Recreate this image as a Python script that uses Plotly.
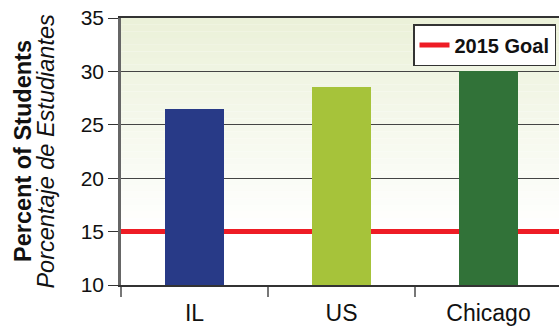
import plotly.graph_objects as go

categories = ["IL", "US", "Chicago"]
percent_students = [26.5, 28.5, 30.0]
bar_colors = ["#283a87", "#a6c33a", "#317238"]
goal_label = "2015 Goal"
goal_value = 15
y_ticks = [10, 15, 20, 25, 30, 35]
y_title_en = "Percent of Students"
y_title_es = "Porcentaje de Estudiantes"

W, H = 559, 327
L, T, B = 121, 18, 42
plot_w = W - L
plot_h = H - T - B
cat_px = 147
x_pos = list(range(len(categories)))
x_range = [-0.5, -0.5 + plot_w / cat_px]

fig = go.Figure()
fig.add_trace(go.Bar(
    x=x_pos, y=percent_students,
    marker=dict(color=bar_colors, line=dict(width=0)),
    width=0.395, showlegend=False))

# vertical gradient background (pale green at top fading to white)
n = 40
top = (235, 241, 217)
bot = (255, 255, 255)
for i in range(n):
    f = min(1.0, (i / (n - 1)) / 0.8)
    c = tuple(round(top[k] + (bot[k] - top[k]) * f) for k in range(3))
    fig.add_shape(type="rect", xref="x domain", yref="y domain",
                  x0=0, x1=1, y0=1 - (i + 1) / n, y1=1 - i / n,
                  fillcolor="rgb(%d,%d,%d)" % c, line=dict(width=0), layer="below")

# goal line: drawn between gridlines and bars, with its own legend entry
fig.add_shape(type="line", xref="x", yref="y",
              x0=x_pos[0] - 0.5, x1=x_pos[-1] + 0.5, y0=goal_value, y1=goal_value,
              line=dict(color="#ee1c25", width=5), layer="between",
              showlegend=True, name="<b>" + goal_label + "</b>")

# two-line y-axis title
fig.add_annotation(text="<b>" + y_title_en + "</b>", textangle=-90,
                   xref="paper", yref="paper", x=(22.5 - L) / plot_w, y=0.5,
                   xanchor="center", yanchor="middle", showarrow=False,
                   font=dict(size=23.5, color="#111"))
fig.add_annotation(text="<i>" + y_title_es + "</i>", textangle=-90,
                   xref="paper", yref="paper", x=(45.1 - L) / plot_w, y=0.5,
                   xanchor="center", yanchor="middle", showarrow=False,
                   font=dict(size=23.5, color="#111"))

fig.update_layout(
    width=W, height=H,
    margin=dict(l=L, r=0, t=T, b=B, pad=0),
    paper_bgcolor="white", plot_bgcolor="rgba(0,0,0,0)",
    font=dict(family="Liberation Sans, Arial, sans-serif", color="#111"),
    bargap=0,
    showlegend=True,
    legend=dict(x=(413 - L) / plot_w, y=1 - (24 - T) / plot_h,
                xanchor="left", yanchor="top",
                bgcolor="white", bordercolor="#333", borderwidth=1.5,
                font=dict(size=20, color="#111")),
    xaxis=dict(
        range=x_range,
        tickmode="array", tickvals=x_pos, ticktext=categories,
        ticks="", showgrid=False, zeroline=False,
        ticklabelstandoff=6,
        tickfont=dict(size=23, color="#111"),
        showline=True, linecolor="#333", linewidth=2, mirror=True,
        minor=dict(tickmode="array", tickvals=[p - 0.5 for p in x_pos] + [x_pos[-1] + 0.5],
                   ticks="outside", ticklen=10, tickcolor="#777", tickwidth=1.5,
                   showgrid=False),
    ),
    yaxis=dict(
        range=[10, 35], tickmode="array", tickvals=y_ticks,
        ticks="outside", ticklen=10, tickcolor="#333", tickwidth=1,
        tickfont=dict(size=21, color="#111"),
        showgrid=True, gridcolor="#444", gridwidth=1.3, zeroline=False,
        showline=True, linecolor="#666", linewidth=2.5,
    ),
)
fig.write_html("out.html")
